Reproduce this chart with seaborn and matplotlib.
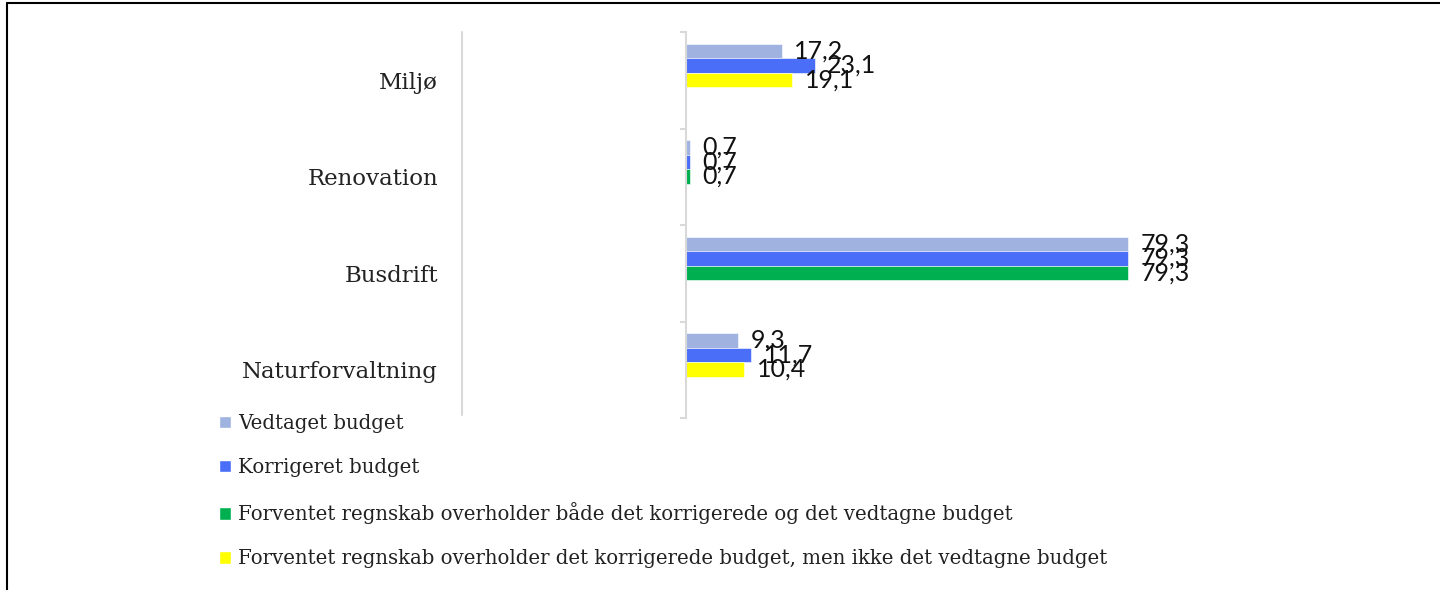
import numpy as np
import pandas as pd
import matplotlib
matplotlib.use("Agg")
import matplotlib.pyplot as plt
from matplotlib.patches import Patch
from matplotlib.lines import Line2D
import seaborn as sns

# ---- data ----
categories = ["Miljø", "Renovation", "Busdrift", "Naturforvaltning"]
vedtaget = [17.2, 0.7, 79.3, 9.3]
korrigeret = [23.1, 0.7, 79.3, 11.7]
forventet = [19.1, 0.7, 79.3, 10.4]
# which status the forecast has: "both" (green) or "korr" (yellow)
status = ["korr", "both", "both", "korr"]
legend_labels = [
    "Vedtaget budget",
    "Korrigeret budget",
    "Forventet regnskab overholder både det korrigerede og det vedtagne budget",
    "Forventet regnskab overholder det korrigerede budget, men ikke det vedtagne budget",
]

c_ved = "#A0B3E0"
c_kor = "#4A6EF8"
c_green = "#00B050"
c_yellow = "#FFFF00"
status_color = {"both": c_green, "korr": c_yellow}

rows = []
for i, cat in enumerate(categories):
    rows.append((cat, "Vedtaget", vedtaget[i]))
    rows.append((cat, "Korrigeret", korrigeret[i]))
    rows.append((cat, "Forventet", forventet[i]))
df = pd.DataFrame(rows, columns=["Kategori", "Serie", "Værdi"])

sns.set_theme(style="white")
plt.rcParams["font.family"] = ["DejaVu Serif"]

W, H = 1440, 590
fig = plt.figure(figsize=(W / 100, H / 100), dpi=100)
x0, x1, ytop, ybot = 686, 1380, 32, 418
ax = fig.add_axes([x0 / W, 1 - ybot / H, (x1 - x0) / W, (ybot - ytop) / H])

sns.barplot(data=df, y="Kategori", x="Værdi", hue="Serie", orient="h",
            order=categories, hue_order=["Vedtaget", "Korrigeret", "Forventet"],
            palette=[c_ved, c_kor, c_green], width=0.45, saturation=1,
            legend=False, ax=ax, edgecolor="white", linewidth=0.4)

# recolor forecast bars by status
for patch, st in zip(ax.containers[2].patches, status):
    patch.set_facecolor(status_color[st])

def fmt(v):
    return f"{v:.1f}".replace(".", ",")

for cont in ax.containers:
    vals = [p.get_width() for p in cont.patches]
    ax.bar_label(cont, labels=[fmt(v) for v in vals], padding=9,
                 fontsize=18, family="Lato", color="#111111")

off = 0.155
ax.set_xlim(0, (x1 - x0) / 5.574)
ax.set_ylim(len(categories) - 0.5 + off, -0.5 + off)
ax.set_yticks(np.arange(len(categories)) + off, categories)
ax.set_yticks(np.arange(len(categories) + 1) - 0.5 + off, minor=True)
ax.tick_params(axis="y", which="major", length=0, pad=(x0 - 438) * 0.72,
               labelsize=16.5, labelcolor="#222222")
ax.tick_params(axis="y", which="minor", length=4.5, width=1.5,
               color="#D9D9D9", direction="out", left=True)
ax.set_xticks([])
ax.set_xlabel("")
ax.set_ylabel("")
for s in ["top", "right", "bottom"]:
    ax.spines[s].set_visible(False)
ax.spines["left"].set_color("#D9D9D9")
ax.spines["left"].set_linewidth(1.5)

# separator line and frame
fig.add_artist(Line2D([462 / W] * 2, [1 - 32 / H, 1 - 415 / H],
                      color="#D9D9D9", lw=1.5))
fig.add_artist(Line2D([7 / W, 1], [1 - 3 / H] * 2, color="black", lw=1.5))
fig.add_artist(Line2D([7 / W] * 2, [1 - 3 / H, 0], color="black", lw=1.5))

handles = [Patch(facecolor=c) for c in [c_ved, c_kor, c_green, c_yellow]]
fig.legend(handles, legend_labels, loc="upper left",
           bbox_to_anchor=(219 / W, 1 - 414 / H), frameon=False,
           prop={"family": "DejaVu Serif", "size": 14.2},
           handlelength=0.62, handleheight=0.62, handletextpad=0.35,
           labelspacing=1.27, borderaxespad=0, borderpad=0,
           labelcolor="#222222")

fig.savefig("out.png", dpi=100)
